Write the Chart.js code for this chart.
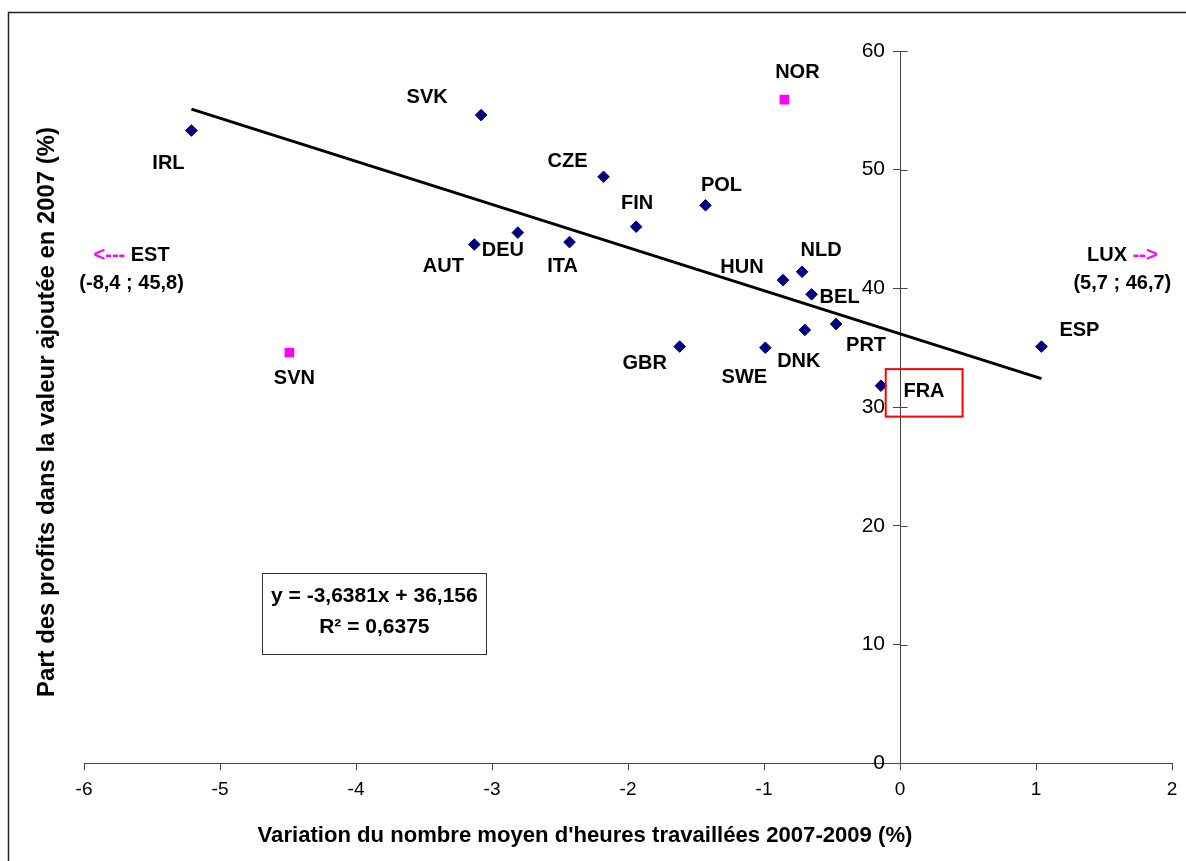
<!DOCTYPE html>
<html><head><meta charset="utf-8">
<script src="https://cdn.jsdelivr.net/npm/chart.js@4.4.1/dist/chart.umd.min.js"></script>
<style>html,body{margin:0;padding:0;background:#fff}canvas{display:block}</style>
</head><body>
<canvas id="c" width="1186" height="861"></canvas>
<script>
// ---- data ----
const countries = ['IRL','SVK','CZE','POL','FIN','DEU','AUT','ITA','HUN','NLD','BEL','PRT','DNK','SWE','GBR','ESP','FRA'];
const hoursChange = [-5.21,-3.08,-2.18,-1.43,-1.94,-2.81,-3.13,-2.43,-0.86,-0.72,-0.65,-0.47,-0.70,-0.99,-1.62,1.04,-0.14];
const profitShare = [53.3,54.6,49.4,47.0,45.2,44.7,43.7,43.9,40.7,41.4,39.5,37.0,36.5,35.0,35.1,35.1,31.8];
const outlierCountries = ['NOR','SVN'];
const outlierHours = [-0.85,-4.49];
const outlierProfit = [55.9,34.6];
const trendX = [-5.21, 1.04];
const trendY = [55.1, 32.4];
const xTickValues = [-6,-5,-4,-3,-2,-1,0,1,2];
const yTickValues = [0,10,20,30,40,50,60];
const xTitle = "Variation du nombre moyen d'heures travaillées 2007-2009 (%)";
const yTitle = "Part des profits dans la valeur ajoutée en 2007 (%)";
const equationLines = ['y = -3,6381x + 36,156', 'R² = 0,6375'];
const offChart = [
  {name:'EST', coords:'(-8,4 ; 45,8)', arrow:'<--- ', side:'left'},
  {name:'LUX', coords:'(5,7 ; 46,7)', arrow:' -->', side:'right'}
];

// ---- layout (pixel offsets of labels relative to their point) ----
const labelOffsets = {
  IRL:[-23,33], SVK:[-54,-18], CZE:[-36,-15], POL:[16,-20], FIN:[1,-23], DEU:[-15,18],
  AUT:[-31,22], ITA:[-7,24], HUN:[-41,-13], NLD:[19,-21], BEL:[28,3], PRT:[30,21],
  DNK:[-6,32], SWE:[-21,30], GBR:[-35,17], ESP:[38,-16], FRA:[43,6], NOR:[13,-27], SVN:[5,26]
};
const FONT = '"Liberation Sans", Arial, sans-serif';
const Y_LABEL_GAP = 15;

const deco = {
  id: 'deco',
  beforeDraw(chart) {
    // move the y tick labels to the left of the crossing axis
    const s = chart.scales.y;
    const items = s.getLabelItems(chart.chartArea);
    if (!items._shifted) {
      items.forEach(it => { it.options.translation[0] -= Y_LABEL_GAP; });
      items._shifted = true;
    }
  },
  afterDraw(chart) {
    const {ctx, scales:{x, y}} = chart;
    ctx.save();
    // outer frame
    ctx.strokeStyle = '#222'; ctx.lineWidth = 1.5;
    ctx.beginPath(); ctx.moveTo(8.5, 861); ctx.lineTo(8.5, 12.5); ctx.lineTo(1186, 12.5); ctx.stroke();
    // right half of y tick marks (crossing ticks)
    const x0 = Math.round(x.getPixelForValue(0)) + 0.5;
    ctx.strokeStyle = '#444'; ctx.lineWidth = 1;
    y.ticks.forEach(t => { const py = Math.round(y.getPixelForValue(t.value)) + 0.5;
      ctx.beginPath(); ctx.moveTo(x0, py); ctx.lineTo(x0 + 7, py); ctx.stroke(); });
    // point labels
    ctx.fillStyle = '#000'; ctx.font = 'bold 20px ' + FONT;
    ctx.textAlign = 'center'; ctx.textBaseline = 'middle';
    chart.data.datasets.forEach((ds, i) => {
      if (!ds.pointNames) return;
      chart.getDatasetMeta(i).data.forEach((pt, j) => {
        const n = ds.pointNames[j]; const o = labelOffsets[n];
        ctx.fillText(n, pt.x + o[0], pt.y + o[1]);
      });
    });
    // off-chart countries
    offChart.forEach(c => {
      const cx = c.side === 'left' ? x.getPixelForValue(-5.65) : x.getPixelForValue(1.635);
      const y1 = y.getPixelForValue(42.8), y2 = y.getPixelForValue(40.4);
      ctx.font = 'bold 20px ' + FONT;
      const wa = ctx.measureText(c.arrow).width, wn = ctx.measureText(c.name).width;
      const start = cx - (wa + wn) / 2;
      ctx.textAlign = 'left';
      if (c.side === 'left') {
        ctx.fillStyle = '#FF00FF'; ctx.fillText(c.arrow, start, y1);
        ctx.fillStyle = '#000'; ctx.fillText(c.name, start + wa, y1);
      } else {
        ctx.fillStyle = '#000'; ctx.fillText(c.name, start, y1);
        ctx.fillStyle = '#FF00FF'; ctx.fillText(c.arrow, start + wn, y1);
      }
      ctx.fillStyle = '#000'; ctx.textAlign = 'center';
      ctx.fillText(c.coords, cx, y2);
    });
    // equation box
    const bx1 = x.getPixelForValue(-4.69), bx2 = x.getPixelForValue(-3.04);
    const by1 = y.getPixelForValue(16.05), by2 = y.getPixelForValue(9.2);
    ctx.strokeStyle = '#333'; ctx.lineWidth = 1;
    ctx.strokeRect(Math.round(bx1) + 0.5, Math.round(by1) + 0.5, Math.round(bx2 - bx1), Math.round(by2 - by1));
    ctx.fillStyle = '#000'; ctx.font = 'bold 21px ' + FONT;
    const bcx = (bx1 + bx2) / 2, bh = by2 - by1;
    ctx.fillText(equationLines[0], bcx, by1 + bh * 0.29);
    ctx.fillText(equationLines[1], bcx, by1 + bh * 0.67);
    // FRA highlight box
    const fx1 = x.getPixelForValue(-0.105), fx2 = x.getPixelForValue(0.46);
    const fy1 = y.getPixelForValue(33.2), fy2 = y.getPixelForValue(29.2);
    ctx.strokeStyle = '#FF0000'; ctx.lineWidth = 2;
    ctx.strokeRect(fx1, fy1, fx2 - fx1, fy2 - fy1);
    // axis titles
    ctx.fillStyle = '#000';
    ctx.font = 'bold 20px ' + FONT;
    let w = ctx.measureText(xTitle).width; let fs = 20 * 655 / w;
    ctx.font = 'bold ' + fs.toFixed(2) + 'px ' + FONT;
    ctx.textAlign = 'center';
    ctx.fillText(xTitle, 585, 836);
    ctx.font = 'bold 20px ' + FONT;
    w = ctx.measureText(yTitle).width; fs = 20 * 570 / w;
    ctx.font = 'bold ' + fs.toFixed(2) + 'px ' + FONT;
    ctx.translate(47, 412); ctx.rotate(-Math.PI / 2);
    ctx.fillText(yTitle, 0, 0);
    ctx.restore();
  }
};

new Chart(document.getElementById('c'), {
  type: 'scatter',
  data: {
    datasets: [
      { label: 'Pays', data: countries.map((c, i) => ({x: hoursChange[i], y: profitShare[i]})), pointNames: countries,
        pointStyle: 'rectRot', pointRadius: 5.8, backgroundColor: '#000080', borderColor: '#000080', borderWidth: 1, order: 1 },
      { label: 'Hors tendance', data: outlierCountries.map((c, i) => ({x: outlierHours[i], y: outlierProfit[i]})), pointNames: outlierCountries,
        pointStyle: 'rect', pointRadius: 6.8, backgroundColor: '#FF00FF', borderColor: '#FF00FF', borderWidth: 0, order: 1 },
      { label: 'Tendance', type: 'line', data: trendX.map((v, i) => ({x: v, y: trendY[i]})),
        borderColor: '#000', borderWidth: 3, pointRadius: 0, fill: false, order: 2 }
    ]
  },
  options: {
    responsive: false, animation: false, devicePixelRatio: 1,
    layout: { padding: { left: 84, right: 14, top: 51, bottom: 52 } },
    plugins: { legend: { display: false }, tooltip: { enabled: false } },
    scales: {
      x: { type: 'linear', min: -6, max: 2, position: 'bottom',
        afterBuildTicks: s => { s.ticks = xTickValues.map(v => ({value: v})); },
        ticks: { font: { family: FONT, size: 19 }, color: '#000', padding: 8 },
        grid: { drawOnChartArea: false, drawTicks: true, tickLength: 7, color: '#444' },
        border: { color: '#444', width: 1 } },
      y: { type: 'linear', min: 0, max: 60, position: { x: 0 },
        afterBuildTicks: s => { s.ticks = yTickValues.map(v => ({value: v})); },
        ticks: { font: { family: FONT, size: 21 }, color: '#000', padding: 8 },
        grid: { drawOnChartArea: false, drawTicks: true, tickLength: 7, color: '#444' },
        border: { color: '#444', width: 1 } }
    }
  },
  plugins: [deco]
});
</script>
</body></html>
